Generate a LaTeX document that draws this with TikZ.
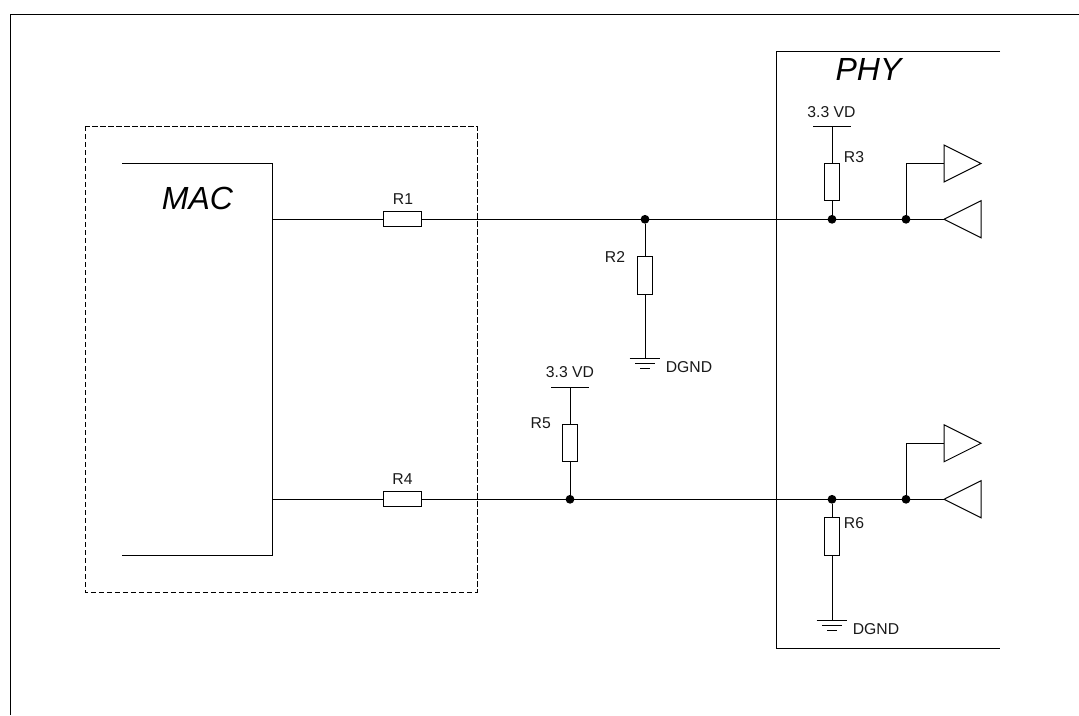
\documentclass[tikz,border=0pt]{standalone}
\usepackage{fontspec}
\setmainfont{Liberation Sans}
\newcommand{\smalltxt}{\fontsize{11.8}{13}\selectfont}
\newcommand{\bigtxt}{\fontsize{24}{26}\selectfont\itshape}
\tikzset{
  wire/.style={line width=0.75pt,black},
  resh/.style={draw=black,line width=0.75pt,fill=white,minimum width=28.1pt,minimum height=11.25pt,inner sep=0pt,outer sep=0pt},
  resv/.style={draw=black,line width=0.75pt,fill=white,minimum width=11.25pt,minimum height=28.1pt,inner sep=0pt,outer sep=0pt},
  dotj/.style={circle,fill=black,minimum size=6.6pt,inner sep=0pt,outer sep=0pt},
  lbl/.style={inner sep=0pt,font=\smalltxt,text=black!90},
  title/.style={inner sep=0pt,font=\bigtxt,text=black},
  buf/.style={line width=0.75pt,black,line join=miter},
  dashbox/.style={line width=0.75pt,black,dash pattern=on 3.8pt off 2.2pt},
}
\begin{document}
\begin{tikzpicture}[x=0.75pt,y=-0.75pt]
\useasboundingbox (0,0) rectangle (1079,715);
% frame
\coordinate (fa) at (10.5,715); \coordinate (fb) at (10.5,14); \coordinate (fc) at (1079,14);
\draw[wire] (fa) -- (fb) -- (fc);
% dashed box
\coordinate (da) at (85.5,126); \coordinate (db) at (477,592.5);
\draw[dashbox] (da) rectangle (db);
% MAC block
\coordinate (ma) at (122,163.5); \coordinate (mb) at (272,163.5); \coordinate (mc) at (272,555); \coordinate (md) at (122,555);
\draw[wire] (ma) -- (mb) -- (mc) -- (md);
\node[title] (mac) at (197.5,198.5) {MAC};
% PHY block
\coordinate (pa) at (1000,51.5); \coordinate (pb) at (776,51.5); \coordinate (pc) at (776,648.5); \coordinate (pd) at (1000,648.5);
\draw[wire] (pa) -- (pb) -- (pc) -- (pd);
\node[title] (phy) at (868.5,69) {PHY};
% wire start points
\coordinate (w1) at (272,219.3);
\coordinate (w2) at (272,499.3);
% resistors
\node[resh] (R1) at (402.6,219.3) {};
\node[resh] (R4) at (402.6,499.3) {};
\node[resv] (R2) at (645,275.3) {};
\node[resv] (R3) at (832,182) {};
\node[resv] (R5) at (570,443) {};
\node[resv] (R6) at (832,536.3) {};
% junctions
\node[dotj] (j1) at (645,219.3) {};
\node[dotj] (j2) at (832,219.3) {};
\node[dotj] (j3) at (906,219.3) {};
\node[dotj] (j4) at (570,499.3) {};
\node[dotj] (j5) at (832,499.3) {};
\node[dotj] (j6) at (906,499.3) {};
% buffers
\coordinate (t1a) at (944,163.5);
\draw[buf] (944,145) -- (981,163.5) -- (944,182) -- cycle;
\coordinate (t2a) at (944,219.3);
\draw[buf] (t2a) -- (981,200.7) -- (981,237.8) -- cycle;
\coordinate (t3a) at (944,443.3);
\draw[buf] (944,424.7) -- (981,443.3) -- (944,461.8) -- cycle;
\coordinate (t4a) at (944,499.3);
\draw[buf] (t4a) -- (981,480.7) -- (981,517.8) -- cycle;
% rails and grounds
\coordinate (v3) at (832,126);
\coordinate (v5) at (570,387);
\coordinate (g2) at (645,358.3);
\coordinate (g6) at (832,620);
\draw[wire] ([xshift=-14pt]v3) -- ([xshift=14pt]v3);
\draw[wire] ([xshift=-14pt]v5) -- ([xshift=14pt]v5);
\foreach \g in {g2,g6}{
  \draw[wire] ([xshift=-11.5pt]\g) -- ([xshift=11.5pt]\g);
  \draw[wire] ([xshift=-7.5pt,yshift=-3.75pt]\g) -- ([xshift=7.5pt,yshift=-3.75pt]\g);
  \draw[wire] ([xshift=-3.75pt,yshift=-7.5pt]\g) -- ([xshift=3.75pt,yshift=-7.5pt]\g);
}
% connectors
\draw[wire] (w1) -- (R1);
\draw[wire] (R1) -- (j1) -- (j2) -- (j3) -- (t2a);
\draw[wire] (j3) |- (t1a);
\draw[wire] (j1) -- (R2) -- (g2);
\draw[wire] (v3) -- (R3) -- (j2);
\draw[wire] (w2) -- (R4);
\draw[wire] (R4) -- (j4) -- (j5) -- (j6) -- (t4a);
\draw[wire] (j6) |- (t3a);
\draw[wire] (v5) -- (R5) -- (j4);
\draw[wire] (j5) -- (R6) -- (g6);
% labels
\node[lbl] (lR1) at (403,199) {R1};
\node[lbl] (lR4) at (402.5,479.5) {R4};
\node[lbl] (lR2) at (615,257.5) {R2};
\node[lbl] (lR3) at (854,157) {R3};
\node[lbl] (lR5) at (540.7,423.5) {R5};
\node[lbl] (lR6) at (854,522.7) {R6};
\node[lbl] (v3t) at (831.5,112) {3.3 VD};
\node[lbl] (v5t) at (570,372.5) {3.3 VD};
\node[lbl] (g2t) at (689,367) {DGND};
\node[lbl] (g6t) at (876,629.5) {DGND};
\end{tikzpicture}
\end{document}
